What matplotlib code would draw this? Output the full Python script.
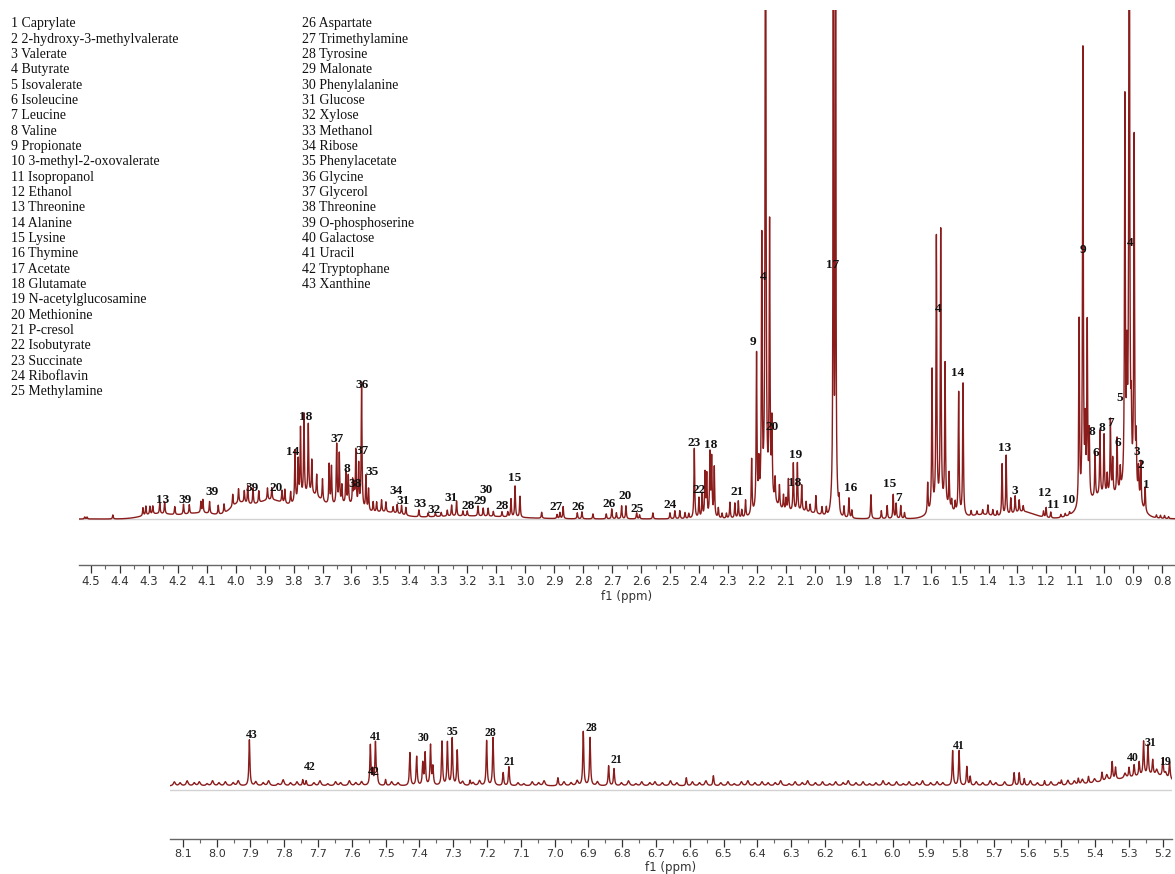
import numpy as np
import matplotlib
matplotlib.use("Agg")
import matplotlib.pyplot as plt
from matplotlib.ticker import MultipleLocator, FormatStrFormatter

# ---- metabolite key ----
names = ["Caprylate", "2-hydroxy-3-methylvalerate", "Valerate", "Butyrate", "Isovalerate",
         "Isoleucine", "Leucine", "Valine", "Propionate", "3-methyl-2-oxovalerate",
         "Isopropanol", "Ethanol", "Threonine", "Alanine", "Lysine", "Thymine", "Acetate",
         "Glutamate", "N-acetylglucosamine", "Methionine", "P-cresol", "Isobutyrate",
         "Succinate", "Riboflavin", "Methylamine", "Aspartate", "Trimethylamine", "Tyrosine",
         "Malonate", "Phenylalanine", "Glucose", "Xylose", "Methanol", "Ribose",
         "Phenylacetate", "Glycine", "Glycerol", "Threonine", "O-phosphoserine",
         "Galactose", "Uracil", "Tryptophane", "Xanthine"]

# ---- upper spectrum (0.75 - 4.55 ppm): sharp lines (ppm, height) ----
top_ppm = [4.521, 4.513, 4.424, 4.320, 4.310, 4.296, 4.286, 4.262, 4.245, 4.21, 4.18, 4.16,
           4.12, 4.113, 4.09, 4.06, 4.04, 4.01, 3.99, 3.97, 3.958, 3.94, 3.92, 3.89,
           3.875, 3.84, 3.83, 3.81, 3.795, 3.784, 3.776, 3.764, 3.749, 3.737, 3.72, 3.70,
           3.677, 3.669, 3.651, 3.642, 3.633, 3.619, 3.611, 3.596, 3.591, 3.585, 3.575,
           3.565, 3.550, 3.541, 3.525, 3.513, 3.496, 3.481, 3.456, 3.442, 3.427, 3.412,
           3.367, 3.335, 3.31, 3.29, 3.269, 3.254, 3.237, 3.215, 3.20, 3.163, 3.145, 3.128,
           3.11, 3.08, 3.06, 3.049, 3.035, 3.018, 2.943, 2.89, 2.88, 2.869, 2.82, 2.804,
           2.766, 2.72, 2.701, 2.685, 2.667, 2.652, 2.615, 2.605, 2.559, 2.50, 2.483, 2.466,
           2.448, 2.435, 2.416, 2.400, 2.389, 2.379, 2.373, 2.362, 2.356, 2.347, 2.333,
           2.32, 2.305, 2.293, 2.276, 2.264, 2.252, 2.239, 2.218, 2.201, 2.193, 2.183,
           2.170, 2.156, 2.148, 2.137, 2.122, 2.108, 2.099, 2.091, 2.074, 2.060, 2.045,
           2.030, 2.016, 1.996, 1.975, 1.960, 1.936, 1.928, 1.916, 1.899, 1.882, 1.872, 1.806,
           1.77, 1.750, 1.729, 1.719, 1.703, 1.690, 1.610, 1.595, 1.580, 1.565, 1.550,
           1.536, 1.527, 1.515, 1.503, 1.488, 1.46, 1.44, 1.42, 1.402, 1.385, 1.37,
           1.353, 1.339, 1.323, 1.308, 1.294, 1.28, 1.21, 1.201, 1.185, 1.15, 1.135,
           1.12, 1.087, 1.074, 1.066, 1.059, 1.052, 1.032, 1.015, 1.001, 0.990, 0.979,
           0.971, 0.956, 0.945, 0.929, 0.922, 0.914, 0.907, 0.897, 0.890, 0.882, 0.874,
           0.859, 0.82, 0.806, 0.792, 0.778]
top_height = [2, 2, 4, 8, 9, 8, 8, 11, 12, 8, 10, 9,
              11, 13, 12, 9, 9, 12, 14, 12, 18, 16, 12, 12,
              12, 12, 14, 12, 52, 40, 70, 82, 70, 34, 22, 22,
              40, 38, 60, 50, 18, 32, 28, 24, 18, 55, 42,
              125, 34, 22, 10, 10, 12, 10, 6, 9, 9, 8,
              7, 4, 4, 4, 6, 11, 15, 5, 5, 10, 8, 8,
              5, 5, 5, 18, 31, 21, 6, 4, 6, 12, 6, 7,
              5, 5, 10, 6, 13, 13, 6, 4, 6, 6, 8, 8,
              6, 5, 70, 20, 24, 44, 42, 63, 58, 50, 10,
              5, 5, 16, 15, 17, 8, 17, 55, 155, 40, 262,
              800, 272, 75, 24, 22, 15, 12, 32, 48, 48, 26,
              10, 8, 18, 8, 8, 1200, 1200, 14, 11, 20, 8, 24,
              8, 13, 24, 15, 13, 6, 30, 140, 270, 275, 142,
              35, 10, 10, 122, 132, 5, 4, 5, 10, 6, 5,
              52, 60, 16, 17, 12, 6, 6, 10, 6, 3, 3,
              3, 186, 455, 70, 175, 65, 45, 65, 60, 20, 75,
              35, 55, 22, 385, 110, 800, 60, 352, 50, 30, 42,
              24, 3, 3, 3, 2]
top_width = [0.0016] * len(top_ppm)
top_width[top_ppm.index(1.936)] = 0.0008
top_width[top_ppm.index(1.928)] = 0.0008

# broad humps underneath (ppm, height, width)
top_hump_ppm = [4.27, 4.12, 3.99, 3.88, 3.74, 3.62, 3.48, 3.20, 2.16, 2.05, 1.932, 1.56, 1.42, 1.28, 1.00, 0.91]
top_hump_height = [5, 6, 12, 19, 22, 14, 6, 3, 14, 7, 30, 11, 4, 7, 22, 18]
top_hump_width = [0.05, 0.06, 0.03, 0.06, 0.04, 0.05, 0.05, 0.15, 0.03, 0.06, 0.008, 0.035, 0.04, 0.04, 0.06, 0.03]

top_labels = [("13", 4.251, 19), ("39", 4.175, 19), ("39", 4.082, 27), ("39", 3.944, 31),
              ("20", 3.861, 31), ("14", 3.802, 67), ("18", 3.757, 102), ("37", 3.650, 80),
              ("8", 3.616, 50), ("38", 3.588, 35), ("37", 3.564, 68), ("35", 3.529, 47),
              ("36", 3.564, 134), ("34", 3.446, 28), ("31", 3.422, 18), ("33", 3.364, 15),
              ("32", 3.315, 9), ("31", 3.256, 21), ("28", 3.198, 13), ("29", 3.156, 18),
              ("30", 3.136, 29), ("28", 3.080, 13), ("15", 3.035, 41), ("27", 2.894, 12),
              ("26", 2.818, 12), ("26", 2.711, 15), ("20", 2.655, 23), ("25", 2.614, 10),
              ("24", 2.500, 14), ("23", 2.417, 76), ("22", 2.400, 29), ("18", 2.359, 74),
              ("21", 2.269, 27), ("9", 2.213, 177), ("4", 2.179, 242), ("20", 2.147, 92),
              ("19", 2.065, 64), ("18", 2.068, 36), ("17", 1.938, 254), ("16", 1.876, 31),
              ("15", 1.740, 35), ("7", 1.712, 21), ("4", 1.574, 210), ("14", 1.505, 146),
              ("13", 1.343, 71), ("3", 1.308, 28), ("12", 1.205, 26), ("11", 1.177, 14),
              ("10", 1.125, 19), ("9", 1.074, 269), ("8", 1.043, 87), ("6", 1.030, 66),
              ("8", 1.009, 91), ("7", 0.977, 96), ("6", 0.955, 76), ("5", 0.948, 121),
              ("4", 0.911, 276), ("3", 0.887, 67), ("2", 0.874, 54), ("1", 0.856, 34)]

# ---- lower spectrum (5.17 - 8.14 ppm) ----
low_ppm = [7.903, 7.745, 7.735, 7.545, 7.530, 7.538, 7.525, 7.50, 7.428, 7.408, 7.39, 7.383,
           7.367, 7.36, 7.333, 7.317, 7.303, 7.288, 7.25, 7.201, 7.182, 7.152, 7.135, 6.99,
           6.915, 6.895, 6.84, 6.824, 6.61, 6.53, 5.822, 5.803, 5.78, 5.77, 5.64, 5.625,
           5.61, 5.55, 5.50, 5.45, 5.42, 5.38, 5.35, 5.34, 5.30, 5.285, 5.27, 5.257, 5.244,
           5.23, 5.20, 5.18]
low_height = [46, 6, 5, 40, 42, 14, 12, 6, 33, 29, 22, 32, 40, 18, 44, 43, 47, 35, 5, 45, 48,
              13, 19, 8, 54, 48, 20, 17, 8, 10, 35, 35, 19, 9, 13, 13, 7, 5, 5, 6, 7, 9, 18,
              12, 10, 12, 14, 34, 30, 15, 18, 17]
low_hump_ppm = [5.32, 5.22]
low_hump_height = [6, 8]
low_hump_width = [0.07, 0.05]
low_offset = 4
# small ripples along the lower trace
ripple_ppm = [8.125, 8.108, 8.087, 8.066, 8.051, 8.028, 8.012, 7.993, 7.974, 7.951, 7.936,
              7.884, 7.862, 7.846, 7.818, 7.803, 7.781, 7.762, 7.712, 7.694, 7.671, 7.648,
              7.633, 7.607, 7.588, 7.571, 7.482, 7.463, 7.272, 7.241, 7.222, 7.108, 7.091,
              7.066, 7.047, 7.031, 6.972, 6.951, 6.933, 6.873, 6.802, 6.781, 6.759, 6.742,
              6.718, 6.703, 6.681, 6.657, 6.638, 6.592, 6.571, 6.552, 6.508, 6.487, 6.468,
              6.447, 6.428, 6.407, 6.386, 6.368, 6.347, 6.331, 6.306, 6.288, 6.267, 6.251,
              6.228, 6.207, 6.186, 6.168, 6.146, 6.131, 6.108, 6.087, 6.068, 6.049, 6.028,
              6.011, 5.988, 5.968, 5.951, 5.928, 5.911, 5.887, 5.868, 5.851, 5.752, 5.733,
              5.711, 5.694, 5.668, 5.592, 5.571, 5.531, 5.508, 5.481, 5.462, 5.438, 5.402,
              5.366, 5.312, 5.218, 5.192]
ripple_height = [4, 3, 5, 3, 4, 2, 5, 3, 4, 3, 5, 4, 3, 5, 2, 6, 3, 4, 3, 5, 2, 4, 3, 5, 3, 4,
                 4, 3, 4, 3, 5, 3, 2, 4, 3, 5, 4, 3, 5, 4, 3, 5, 2, 4, 3, 4, 3, 5, 3, 4, 3, 5,
                 3, 4, 2, 4, 5, 3, 4, 3, 3, 5, 2, 4, 3, 5, 3, 4, 2, 4, 3, 5, 3, 4, 2, 3, 5, 3,
                 4, 2, 4, 3, 5, 3, 4, 3, 4, 3, 5, 3, 4, 5, 3, 4, 3, 5, 4, 5, 4, 6, 5, 6, 5]

low_labels = [("43", 7.897, 55), ("42", 7.723, 23), ("41", 7.530, 53), ("42", 7.536, 18),
              ("30", 7.388, 52), ("35", 7.303, 58), ("28", 7.191, 57), ("21", 7.133, 28),
              ("28", 6.890, 62), ("21", 6.816, 30), ("41", 5.805, 44), ("40", 5.290, 32),
              ("31", 5.238, 47), ("19", 5.194, 28)]

LINE = "#8b1c1c"


def lorentz(x, pos, hgt, g):
    g = np.broadcast_to(np.asarray(g, dtype=float), (len(pos),))
    y = np.zeros_like(x)
    for p, h, w in zip(pos, hgt, g):
        y += h * w * w / (w * w + (x - p) ** 2)
    return y


def gauss(x, pos, hgt, wid):
    y = np.zeros_like(x)
    for p, h, w in zip(pos, hgt, wid):
        y += h * np.exp(-0.5 * ((x - p) / w) ** 2)
    return y


fig = plt.figure(figsize=(11.75, 8.74), dpi=100)
W, H = 1175.0, 874.0


def style_axis(ax, fs):
    for s in ["left", "right", "top"]:
        ax.spines[s].set_visible(False)
    ax.spines["bottom"].set_color("#666666")
    ax.spines["bottom"].set_linewidth(1.0)
    ax.set_yticks([])
    ax.xaxis.set_major_locator(MultipleLocator(0.1))
    ax.xaxis.set_minor_locator(MultipleLocator(0.05))
    ax.xaxis.set_major_formatter(FormatStrFormatter("%.1f"))
    ax.tick_params(axis="x", which="major", direction="out", length=6, width=0.9,
                   colors="#333333", labelsize=fs, pad=1.5)
    ax.tick_params(axis="x", which="minor", direction="out", length=3, width=0.8,
                   colors="#666666")
    ax.patch.set_alpha(0)


# upper panel
ax1 = fig.add_axes([79 / W, (H - 565) / H, (1175 - 79) / W, (565 - 10) / H])
x1 = np.linspace(0.75, 4.55, 40000)
y1 = (lorentz(x1, top_ppm, top_height, top_width)
      + gauss(x1, top_hump_ppm, top_hump_height, top_hump_width))
ax1.axhline(0, color="#d2d2d2", lw=1.0, zorder=1)
ax1.plot(x1, y1, color=LINE, lw=1.0, zorder=2)
ax1.set_xlim(4.541, 0.756)
ax1.set_ylim(-46, 509)
style_axis(ax1, 8.5)
ax1.set_xlabel("f1 (ppm)", fontsize=8.5, color="#333333", labelpad=1)
for t, p, h in top_labels:
    ax1.text(p, h, t, ha="center", va="center", fontsize=9.5, fontweight="bold",
             family="Liberation Serif", color="#111111", zorder=3)

# lower panel
ax2 = fig.add_axes([170 / W, (H - 839) / H, (1172 - 170) / W, (839 - 700) / H])
x2 = np.linspace(5.17, 8.14, 30000)
y2 = (low_offset + lorentz(x2, low_ppm, low_height, 0.0018)
      + lorentz(x2, ripple_ppm, ripple_height, 0.0035)
      + gauss(x2, low_hump_ppm, low_hump_height, low_hump_width))
ax2.axhline(0, color="#d2d2d2", lw=1.0, zorder=1)
ax2.plot(x2, y2, color=LINE, lw=1.0, zorder=2)
ax2.set_xlim(8.138, 5.173)
ax2.set_ylim(-49, 90)
style_axis(ax2, 8)
ax2.set_xlabel("f1 (ppm)", fontsize=8.5, color="#333333", labelpad=1)
for t, p, h in low_labels:
    ax2.text(p, h, t, ha="center", va="center", fontsize=8.5, fontweight="bold",
             family="Liberation Serif", color="#111111", zorder=3)

# key in two columns
for i, n in enumerate(names):
    col = 0 if i < 25 else 1
    row = i if i < 25 else i - 25
    xpx = 11 if col == 0 else 302
    ypx = 24 + row * 15.32
    fig.text(xpx / W, 1 - ypx / H, "%d %s" % (i + 1, n), ha="left", va="center",
             fontsize=10, family="Liberation Serif", color="#111111")

fig.savefig("out.png", dpi=100)
